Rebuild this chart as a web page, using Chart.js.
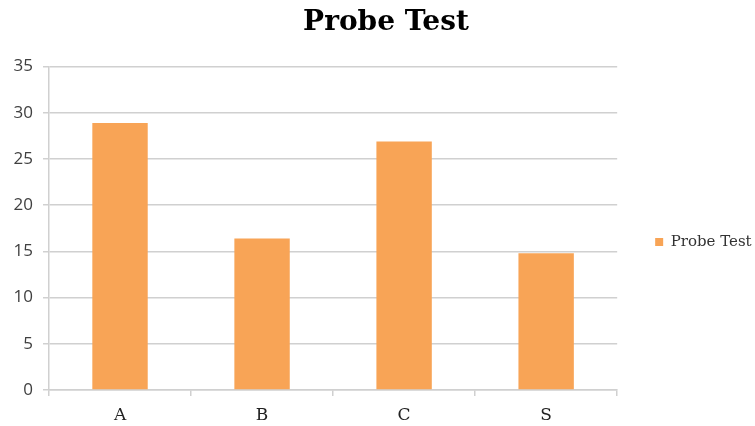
<!DOCTYPE html>
<html>
<head>
<meta charset="utf-8">
<script src="https://cdn.jsdelivr.net/npm/chart.js@4/dist/chart.umd.min.js"></script>
<style>
  html, body { margin: 0; padding: 0; background: #ffffff; }
  #wrap { width: 755px; height: 426px; }
</style>
</head>
<body>
<div id="wrap"><canvas id="chart" width="755" height="426"></canvas></div>
<script>
// Probe test results by group
const categories = ['A', 'B', 'C', 'S'];
const probeTest = [28.9, 16.4, 26.9, 14.8];
const yTicks = [0, 5, 10, 15, 20, 25, 30, 35];

const gridGray = '#d0d0d0';
const serif = '"DejaVu Serif", "Liberation Serif", serif';
const sans = '"Open Sans", "Noto Sans", sans-serif';

new Chart(document.getElementById('chart'), {
  type: 'bar',
  data: {
    labels: categories,
    datasets: [{
      label: 'Probe Test',
      data: probeTest,
      backgroundColor: '#f8a456',
      borderWidth: 0,
      categoryPercentage: 1.0,
      barPercentage: 0.39
    }]
  },
  options: {
    responsive: false,
    animation: false,
    layout: { padding: { top: 4, right: -4, left: 13, bottom: 0 } },
    plugins: {
      title: {
        display: true,
        text: 'Probe Test',
        color: '#000000',
        font: { family: serif, size: 28, weight: 'bold' },
        padding: { top: 2, bottom: 27 }
      },
      legend: {
        position: 'right',
        // blank heading used only to push the single entry down a little
        title: {
          display: true,
          text: ' ',
          font: { size: 10 },
          padding: { top: 0, bottom: 42 }
        },
        labels: {
          boxWidth: 8,
          boxHeight: 8,
          padding: 20.5,
          color: '#333333',
          font: { family: serif, size: 15 }
        }
      },
      tooltip: { enabled: false }
    },
    scales: {
      x: {
        afterFit: (axis) => { axis.height = 36; },
        grid: {
          offset: true,
          drawOnChartArea: false,
          color: gridGray,
          tickLength: 6,
          lineWidth: 1.5
        },
        border: { color: gridGray, width: 1.5 },
        ticks: {
          color: '#222222',
          font: { family: serif, size: 17 },
          padding: 9
        }
      },
      y: {
        min: 0,
        max: 35,
        afterBuildTicks: (axis) => { axis.ticks = yTicks.map(v => ({ value: v })); },
        afterFit: (axis) => { axis.width = 36; },
        grid: {
          color: gridGray,
          tickLength: 6,
          lineWidth: 1.5
        },
        border: { color: gridGray, width: 1.5 },
        ticks: {
          color: '#404040',
          font: { family: sans, size: 17 },
          padding: 10
        }
      },
      // empty spacer between the plot and the legend
      gap: {
        type: 'linear',
        position: 'right',
        display: true,
        grid: { display: false },
        border: { display: false },
        ticks: { display: false },
        afterFit: (axis) => { axis.width = 17.5; }
      }
    }
  }
});
</script>
</body>
</html>
